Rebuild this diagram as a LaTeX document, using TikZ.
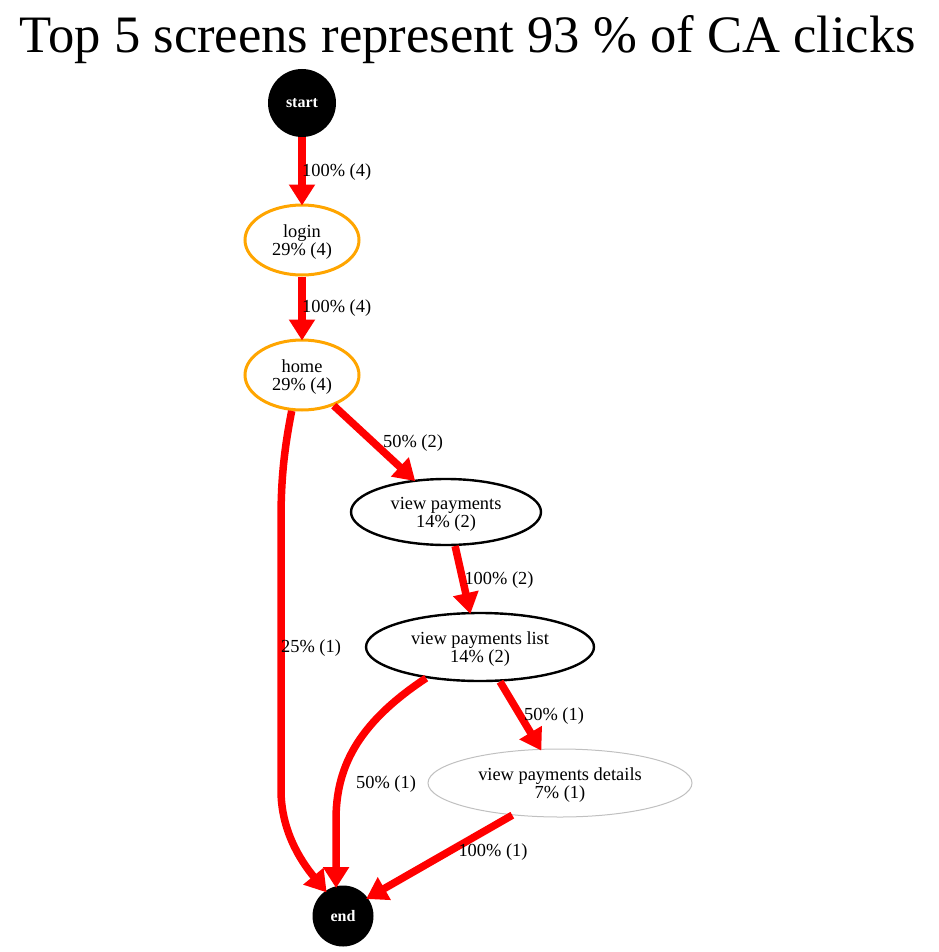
\documentclass[tikz,border=0pt]{standalone}
\usepackage{fontspec}
\setmainfont{Liberation Serif}
\usetikzlibrary{shapes.geometric,arrows.meta}
\definecolor{orng}{HTML}{FFA500}
\definecolor{lgray}{HTML}{C0C0C0}
\newcommand{\twoline}[2]{\raisebox{-3pt}[\height][\depth]{\setlength{\tabcolsep}{0pt}\begin{tabular}{c}#1\\#2\end{tabular}}}
\tikzset{
  lbl/.style={font=\fontsize{18.4}{18.5}\selectfont, inner sep=0pt},
  scr/.style={ellipse, draw, inner sep=0pt, font=\fontsize{18.4}{18.5}\selectfont},
  hot/.style={scr, draw=orng, line width=3pt},
  warm/.style={scr, draw=black, line width=2.4pt},
  cold/.style={scr, draw=lgray, line width=1pt},
  term/.style={circle, fill=black, text=white, inner sep=0pt, font=\fontsize{16}{16}\selectfont\bfseries},
  flow/.style={draw=red, line width=7.5pt, shorten >=-2pt, -{Triangle[length=21pt,width=25pt]}},
}
\begin{document}
\begin{tikzpicture}[x=1pt,y=-1pt]
\useasboundingbox (0,0) rectangle (938,952);
\node[font=\fontsize{52.6}{53}\selectfont, anchor=base, inner sep=0pt] (title) at (468,53) {Top 5 screens represent 93 \% of CA clicks};
\node[term, minimum size=68pt] (start) at (302,103) {start};
\node[hot, minimum width=114pt, minimum height=70pt] (login) at (302,240) {\twoline{login}{29\% (4)}};
\node[hot, minimum width=114pt, minimum height=70pt] (home) at (302,375) {\twoline{home}{29\% (4)}};
\node[warm, minimum width=190pt, minimum height=66pt] (vp) at (446,512) {\twoline{view payments}{14\% (2)}};
\node[warm, minimum width=228pt, minimum height=68pt] (vpl) at (480,647) {\twoline{view payments list}{14\% (2)}};
\node[cold, minimum width=264pt, minimum height=68pt] (vpd) at (560,783) {\twoline{view payments details}{7\% (1)}};
\node[term, minimum size=61pt] (end) at (343,916) {end};

\draw[flow] (start.south) -- (login.north);
\draw[flow] (login.south) -- (home.north);
\draw[flow] (home.-44) -- (vp.135);
\draw[flow] (home.254) .. controls (284,450) and (281,480) .. (281,520) -- (281,790) .. controls (281,830) and (300,860) .. (end.125);
\draw[flow] (vp.-75) -- (vpl.106);
\draw[flow] (vpl.-60) -- (vpd.120);
\draw[flow] (vpl.-150) .. controls (355,725) and (336,770) .. (336,820) -- (end.103);
\draw[flow] (vpd.214) -- (end.36);

\node[lbl, anchor=west] (l1) at (302,172) {100\% (4)};
\node[lbl, anchor=west] (l2) at (302,308) {100\% (4)};
\node[lbl] (l3) at (413,443) {50\% (2)};
\node[lbl] (l4) at (311,648) {25\% (1)};
\node[lbl] (l5) at (499,580) {100\% (2)};
\node[lbl] (l6) at (554,716) {50\% (1)};
\node[lbl] (l7) at (386,784) {50\% (1)};
\node[lbl] (l8) at (493,852) {100\% (1)};
\end{tikzpicture}
\end{document}
